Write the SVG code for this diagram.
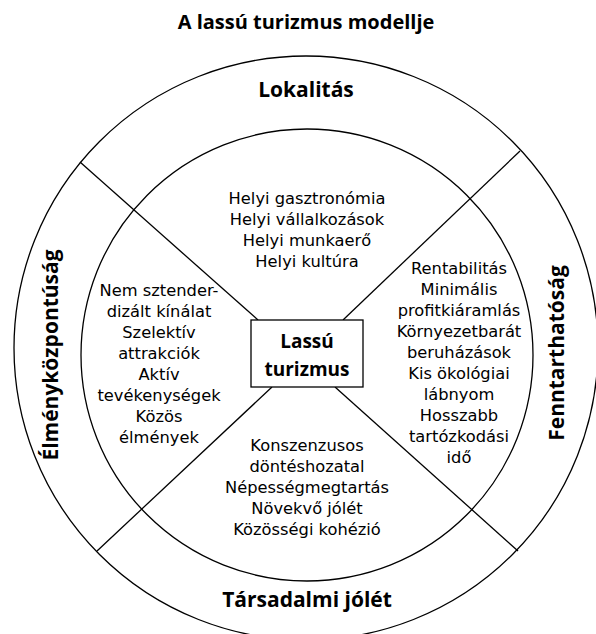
<svg xmlns="http://www.w3.org/2000/svg" width="596" height="634" viewBox="0 0 596 634">
  <style>
    .ring { fill: none; stroke: #000; stroke-width: 1.3; }
    .conn { stroke: #000; stroke-width: 1.3; fill: none; }
    .box { fill: #fff; stroke: #000; stroke-width: 1.3; }
    .body { font-family: "DejaVu Sans", "Open Sans", sans-serif; font-size: 16.3px; fill: #000; text-anchor: middle; }
    .head { font-family: "Open Sans", "Noto Sans", sans-serif; font-size: 21px; font-weight: bold; fill: #000; text-anchor: middle; }
    .title { font-family: "Open Sans", "Noto Sans", sans-serif; font-size: 20px; font-weight: bold; fill: #000; text-anchor: middle; }
    .core { font-family: "Open Sans", "Noto Sans", sans-serif; font-size: 19px; font-weight: bold; fill: #000; text-anchor: middle; }
  </style>
  <rect width="596" height="634" fill="#fff"/>

  <g id="title">
    <text class="title" x="306" y="29">A lassú turizmus modellje</text>
  </g>

  <g id="rings">
    <circle class="ring" cx="306" cy="348" r="292"/>
    <circle class="ring" cx="307" cy="355" r="226"/>
  </g>

  <g id="connectors">
    <line class="conn" x1="80" y1="162" x2="258" y2="320"/>
    <line class="conn" x1="520" y1="151" x2="343" y2="320"/>
    <line class="conn" x1="97" y1="551" x2="272" y2="387"/>
    <line class="conn" x1="518" y1="551" x2="335" y2="387"/>
  </g>

  <g id="lokalitas">
    <text class="head" x="306" y="97">Lokalitás</text>
  </g>
  <g id="tarsadalmi-jolet">
    <text class="head" x="307" y="607">Társadalmi jólét</text>
  </g>
  <g id="elmenykozpontusag">
    <text class="head" transform="translate(58,355) rotate(-90)">Élményközpontúság</text>
  </g>
  <g id="fenntarthatosag">
    <text class="head" transform="translate(564,353) rotate(-90)">Fenntarthatóság</text>
  </g>

  <g id="lokalitas-items">
    <text class="body" x="307" y="204">Helyi gasztronómia</text>
    <text class="body" x="307" y="225">Helyi vállalkozások</text>
    <text class="body" x="307" y="246">Helyi munkaerő</text>
    <text class="body" x="307" y="267">Helyi kultúra</text>
  </g>

  <g id="elmeny-items">
    <text class="body" x="159" y="296">Nem sztender-</text>
    <text class="body" x="159" y="317">dizált kínálat</text>
    <text class="body" x="159" y="338">Szelektív</text>
    <text class="body" x="159" y="359">attrakciók</text>
    <text class="body" x="159" y="380">Aktív</text>
    <text class="body" x="159" y="401">tevékenységek</text>
    <text class="body" x="159" y="422">Közös</text>
    <text class="body" x="159" y="443">élmények</text>
  </g>

  <g id="fenntarthatosag-items">
    <text class="body" x="459" y="274">Rentabilitás</text>
    <text class="body" x="459" y="295">Minimális</text>
    <text class="body" x="459" y="316">profitkiáramlás</text>
    <text class="body" x="459" y="337">Környezetbarát</text>
    <text class="body" x="459" y="358">beruházások</text>
    <text class="body" x="459" y="379">Kis ökológiai</text>
    <text class="body" x="459" y="400">lábnyom</text>
    <text class="body" x="459" y="421">Hosszabb</text>
    <text class="body" x="459" y="442">tartózkodási</text>
    <text class="body" x="459" y="463">idő</text>
  </g>

  <g id="tarsadalmi-items">
    <text class="body" x="307" y="451">Konszenzusos</text>
    <text class="body" x="307" y="472">döntéshozatal</text>
    <text class="body" x="307" y="493">Népességmegtartás</text>
    <text class="body" x="307" y="514">Növekvő jólét</text>
    <text class="body" x="307" y="535">Közösségi kohézió</text>
  </g>

  <g id="lassu-turizmus">
    <rect class="box" x="251" y="320" width="112" height="67"/>
    <text class="core" x="307" y="348">Lassú</text>
    <text class="core" x="307" y="376">turizmus</text>
  </g>
</svg>
